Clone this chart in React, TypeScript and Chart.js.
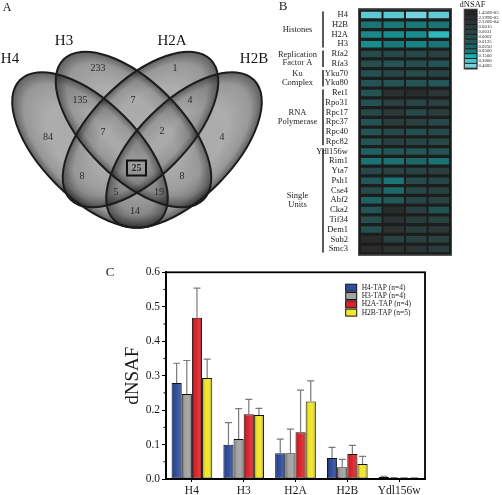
import React, { useEffect, useRef } from 'react';
import { Chart, registerables } from 'chart.js';

Chart.register(...registerables);

const SERIF = "'Liberation Serif', 'Times New Roman', serif";

// ---------------- Panel A : Venn diagram ----------------
const vennSetNames = ['H4', 'H3', 'H2A', 'H2B'];
// H4, H3, H2A, H2B only; H4∩H3, H3∩H2A, H2A∩H2B, H4∩H3∩H2A, H3∩H2A∩H2B, all, H4∩H2A, H3∩H2B, H4∩H2A∩H2B, H4∩H3∩H2B, H4∩H2B
const vennRegionCounts = [84, 233, 1, 4, 135, 7, 4, 7, 2, 25, 8, 8, 5, 19, 14];
const vennHighlightIndex = 9;
// layout (diagram units = px)
const vennEllipses = [
  { cx: 90, cy: 150, a: 99, b: 48, rot: 45 },
  { cx: 133.5, cy: 129.5, a: 99, b: 48, rot: 45 },
  { cx: 140.5, cy: 129.5, a: 99, b: 48, rot: -45 },
  { cx: 184, cy: 150, a: 99, b: 48, rot: -45 },
];
const vennSetLabelPos = [[10, 59], [64, 41], [172, 41], [254, 59]];
const vennCountPos = [
  [48, 137], [98, 68], [175, 68], [222, 137], [80, 100], [133, 100], [190, 100],
  [103, 132], [162, 131], [136.5, 168], [82, 176], [182, 176], [116, 192], [159, 192], [135, 211],
];

// ---------------- Panel B : heat map ----------------
const heatRows = ['H4', 'H2B', 'H2A', 'H3', 'Rfa2', 'Rfa3', 'Yku70', 'Yku80', 'Ret1', 'Rpo31', 'Rpc17', 'Rpc37', 'Rpc40', 'Rpc82', 'Ydl156w', 'Rim1', 'Yta7', 'Psh1', 'Cse4', 'Abf2', 'Cka2', 'Tif34', 'Dem1', 'Sub2', 'Smc3'];
const heatCols = ['H4', 'H3', 'H2A', 'H2B'];
// level on the dNSAF colour scale (0 = 1.450E-05 ... 11 = 0.4683)
const heatLevels = [
  [10.4, 10.3, 11, 10.5],
  [7.8, 8.0, 8.0, 7.9],
  [8.3, 8.4, 8.4, 9.4],
  [8.4, 8.0, 8.2, 7.8],
  [4.5, 4.3, 4.3, 3.5],
  [5.0, 5.5, 5.0, 5.5],
  [5.3, 4.2, 4.8, 4.0],
  [5.5, 5.5, 5.5, 5.8],
  [5.5, 1.2, 0.5, 2.0],
  [5.3, 3.2, 4.0, 3.5],
  [4.3, 2.5, 4.5, 3.0],
  [5.5, 3.0, 3.5, 4.3],
  [5.5, 4.3, 5.0, 4.3],
  [5.7, 3.2, 4.0, 4.2],
  [6.8, 5.8, 5.8, 5.5],
  [7.8, 7.7, 7.2, 7.8],
  [4.3, 3.7, 3.7, 3.2],
  [6.0, 7.8, 4.5, 4.0],
  [4.5, 7.2, 4.2, 3.5],
  [7.0, 6.0, 4.0, 3.7],
  [5.7, 0.5, 3.2, 5.5],
  [5.0, 1.5, 3.0, 3.7],
  [5.0, 1.5, 3.0, 2.2],
  [0.5, 3.5, 3.5, 3.5],
  [0.5, 1.5, 2.0, 3.0],
];
const heatGroups = [
  { label: ['Histones'], from: 0, to: 3 },
  { label: ['Replication', 'Factor A'], from: 4, to: 5 },
  { label: ['Ku', 'Complex'], from: 6, to: 7 },
  { label: ['RNA', 'Polymerase'], from: 8, to: 13 },
  { label: ['Single', 'Units'], from: 14, to: 24 },
];
const scaleLabels = ['1.450E-05', '2.599E-05', '2.320E-04', '0.0015', '0.0031', '0.0062', '0.0125', '0.0250', '0.0500', '0.1500', '0.3000', '0.4683'];
const scaleColors = ['#262626', '#2b2e2e', '#2c3535', '#2a3d3d', '#284545', '#254e4e', '#225858', '#1e6464', '#197878', '#18b0b0', '#4cc4cc', '#74d2de'];

// ---------------- Panel C : bar chart ----------------
const barCategories = ['H4', 'H3', 'H2A', 'H2B', 'Ydl156w'];
const barSeriesNames = ['H4-TAP (n=4)', 'H3-TAP (n=4)', 'H2A-TAP (n=4)', 'H2B-TAP (n=5)'];
const barColors = ['#2f4c9e', '#a4a4a4', '#dd2329', '#f2e82a'];
const h4TapMean = [0.279, 0.0997, 0.0745, 0.061, 0.006];
const h3TapMean = [0.247, 0.116, 0.0745, 0.034, 0.003];
const h2aTapMean = [0.468, 0.188, 0.136, 0.0726, 0.002];
const h2bTapMean = [0.293, 0.186, 0.225, 0.0436, 0.002];
const h4TapSd = [0.057, 0.064, 0.041, 0.031, 0.002];
const h3TapSd = [0.097, 0.088, 0.07, 0.023, 0.001];
const h2aTapSd = [0.086, 0.043, 0.122, 0.025, 0.001];
const h2bTapSd = [0.055, 0.019, 0.06, 0.022, 0.001];
const barMeans = [h4TapMean, h3TapMean, h2aTapMean, h2bTapMean];
const barSds = [h4TapSd, h3TapSd, h2aTapSd, h2bTapSd];
const yTicks = [0, 0.1, 0.2, 0.3, 0.4, 0.5, 0.6];

// ---------------- helpers ----------------
function hexToRgb(h: string) {
  const n = parseInt(h.slice(1), 16);
  return [(n >> 16) & 255, (n >> 8) & 255, n & 255];
}
function levelColor(l: number) {
  const i = Math.max(0, Math.min(scaleColors.length - 2, Math.floor(l)));
  const t = Math.max(0, Math.min(1, l - i));
  const a = hexToRgb(scaleColors[i]);
  const b = hexToRgb(scaleColors[i + 1]);
  const c = a.map((v, k) => Math.round(v + (b[k] - v) * t));
  return `rgb(${c[0]},${c[1]},${c[2]})`;
}

// ---------------- plugins ----------------
const vennPlugin = {
  id: 'vennPlugin',
  beforeDatasetsDraw(chart: any) {
    const { ctx, scales } = chart;
    const sx = (v: number) => scales.x.getPixelForValue(v);
    const sy = (v: number) => scales.y.getPixelForValue(v);
    const k = sx(1) - sx(0);
    const path = (e: any) => {
      ctx.beginPath();
      ctx.ellipse(sx(e.cx), sy(e.cy), e.a * k, e.b * k, (e.rot * Math.PI) / 180, 0, Math.PI * 2);
    };
    ctx.save();
    ctx.fillStyle = '#adadad';
    vennEllipses.forEach((e) => { path(e); ctx.fill(); });
    vennEllipses.forEach((e) => {
      ctx.save();
      ctx.translate(sx(e.cx), sy(e.cy));
      ctx.rotate((e.rot * Math.PI) / 180);
      ctx.scale(e.a * k, e.b * k);
      const g = ctx.createRadialGradient(0, 0, 0, 0, 0, 1);
      g.addColorStop(0, 'rgba(255,255,255,0.06)');
      g.addColorStop(0.55, 'rgba(0,0,0,0)');
      g.addColorStop(0.85, 'rgba(0,0,0,0.12)');
      g.addColorStop(1, 'rgba(0,0,0,0.45)');
      ctx.fillStyle = g;
      ctx.beginPath();
      ctx.arc(0, 0, 1, 0, Math.PI * 2);
      ctx.fill();
      ctx.restore();
    });
    ctx.strokeStyle = '#1c1c1c';
    ctx.lineWidth = 2;
    vennEllipses.forEach((e) => { path(e); ctx.stroke(); });
    ctx.restore();
  },
  afterDatasetsDraw(chart: any) {
    const { ctx, scales } = chart;
    const meta = chart.getDatasetMeta(0);
    ctx.save();
    ctx.textAlign = 'center';
    ctx.textBaseline = 'middle';
    meta.data.forEach((pt: any, i: number) => {
      const bold = i === vennHighlightIndex;
      ctx.font = `${bold ? 'bold ' : ''}10px ${SERIF}`;
      ctx.fillStyle = '#2a2a2a';
      ctx.fillText(String(vennRegionCounts[i]), pt.x, pt.y);
      if (bold) {
        ctx.strokeStyle = '#111';
        ctx.lineWidth = 2;
        ctx.strokeRect(pt.x - 9.5, pt.y - 7.5, 19, 15);
      }
    });
    ctx.font = `15px ${SERIF}`;
    ctx.fillStyle = '#151515';
    vennSetNames.forEach((n, i) => {
      ctx.fillText(n, scales.x.getPixelForValue(vennSetLabelPos[i][0]), scales.y.getPixelForValue(vennSetLabelPos[i][1]));
    });
    ctx.font = `12px ${SERIF}`;
    ctx.fillText('A', 7, 8);
    ctx.restore();
  },
};

const heatPlugin = {
  id: 'heatPlugin',
  beforeDatasetsDraw(chart: any) {
    const { ctx, chartArea: ca } = chart;
    ctx.save();
    ctx.fillStyle = '#1c1e1e';
    ctx.fillRect(ca.left - 1, ca.top - 1, ca.width + 2, ca.height + 2);
    ctx.strokeStyle = '#4a4a4a';
    ctx.lineWidth = 1;
    ctx.strokeRect(ca.left - 1.5, ca.top - 1.5, ca.width + 3, ca.height + 3);
    ctx.restore();
  },
  afterDraw(chart: any) {
    const { ctx, chartArea: ca, scales } = chart;
    const y = scales.y;
    const rowH = y.getPixelForValue(1) - y.getPixelForValue(0);
    ctx.save();
    ctx.fillStyle = '#1e1e1e';
    ctx.strokeStyle = '#111';
    ctx.lineWidth = 1.4;
    ctx.textAlign = 'center';
    ctx.textBaseline = 'middle';
    ctx.font = `8.5px ${SERIF}`;
    heatGroups.forEach((g) => {
      const y1 = y.getPixelForValue(g.from) - rowH / 2 + 1.5;
      const y2 = y.getPixelForValue(g.to) + rowH / 2 - 1.5;
      ctx.beginPath();
      ctx.moveTo(ca.left - 37, y1);
      ctx.lineTo(ca.left - 37, y2);
      ctx.stroke();
      const mid = (y1 + y2) / 2;
      g.label.forEach((t, k) => {
        ctx.fillText(t, ca.left - 62.5, mid + (k - (g.label.length - 1) / 2) * 8.4);
      });
    });
    // panel letter
    ctx.font = `13px ${SERIF}`;
    ctx.fillText('B', 28, 7);
    // colour scale legend
    const lx = ca.right + 15;
    const lw = 11.5;
    const top = 10;
    const bh = 4.85;
    ctx.font = `8.5px ${SERIF}`;
    ctx.fillText('dNSAF', ca.right + 22.5, 4.5);
    ctx.fillStyle = '#1c1c1c';
    ctx.fillRect(lx - 1, top - 1, lw + 2, bh * scaleColors.length + 2);
    scaleColors.forEach((c, i) => {
      ctx.fillStyle = c;
      ctx.fillRect(lx, top + i * bh + 0.5, lw, bh - 1);
    });
    ctx.strokeStyle = '#777';
    ctx.lineWidth = 0.8;
    ctx.strokeRect(lx - 1, top - 1, lw + 2, bh * scaleColors.length + 2);
    ctx.font = `4.8px ${SERIF}`;
    ctx.textAlign = 'left';
    ctx.fillStyle = '#222';
    scaleLabels.forEach((t, i) => {
      ctx.fillText(t, lx + lw + 2, top + i * bh + bh / 2);
    });
    ctx.restore();
  },
};

const barPlugin = {
  id: 'barPlugin',
  afterDatasetsDraw(chart: any) {
    const { ctx, scales, chartArea: ca } = chart;
    const ys = scales.y;
    ctx.save();
    chart.data.datasets.forEach((ds: any, di: number) => {
      const meta = chart.getDatasetMeta(di);
      meta.data.forEach((bar: any, i: number) => {
        const { x, y, base, width } = bar.getProps(['x', 'y', 'base', 'width'], true);
        const h = base - y;
        if (h > 2.5) {
          const g = ctx.createLinearGradient(x - width / 2, 0, x + width / 2, 0);
          g.addColorStop(0, 'rgba(0,0,0,0.38)');
          g.addColorStop(0.3, 'rgba(0,0,0,0)');
          g.addColorStop(0.6, 'rgba(255,255,255,0.06)');
          g.addColorStop(1, 'rgba(0,0,0,0.42)');
          ctx.fillStyle = g;
          ctx.fillRect(x - width / 2 + 1, y + 1, width - 2, h - 1);
        }
        const top = ys.getPixelForValue(barMeans[di][i] + barSds[di][i]);
        ctx.strokeStyle = '#7a7a7a';
        ctx.lineWidth = 1.2;
        ctx.beginPath();
        ctx.moveTo(x, y);
        ctx.lineTo(x, top);
        ctx.moveTo(x - 3.5, top);
        ctx.lineTo(x + 3.5, top);
        ctx.stroke();
      });
    });
    // minor ticks
    ctx.strokeStyle = '#000';
    ctx.lineWidth = 1;
    for (let i = 0; i < yTicks.length - 1; i++) {
      const py = ys.getPixelForValue((yTicks[i] + yTicks[i + 1]) / 2);
      ctx.beginPath();
      ctx.moveTo(ca.left - 2.5, py);
      ctx.lineTo(ca.left, py);
      ctx.stroke();
    }
    // frame
    ctx.lineWidth = 1.8;
    ctx.strokeRect(ca.left, ca.top, ca.width, ca.height);
    // legend
    const lx = ca.left + 179.7;
    const ly = ca.top + 15.4;
    ctx.textBaseline = 'middle';
    ctx.textAlign = 'left';
    ctx.font = `7.5px ${SERIF}`;
    barSeriesNames.forEach((n, i) => {
      const cy = ly + i * 8.3;
      ctx.fillStyle = barColors[i];
      ctx.fillRect(lx, cy - 3.5, 11, 7);
      ctx.strokeStyle = '#111';
      ctx.lineWidth = 1;
      ctx.strokeRect(lx, cy - 3.5, 11, 7);
      ctx.fillStyle = '#222';
      ctx.fillText(n, lx + 16, cy);
    });
    ctx.font = `13px ${SERIF}`;
    ctx.textAlign = 'center';
    ctx.fillStyle = '#222';
    ctx.fillText('C', 10, 11);
    ctx.restore();
  },
};

// ---------------- configs ----------------
function vennConfig(): any {
  return {
    type: 'scatter',
    data: {
      datasets: [{ data: vennCountPos.map(([x, y]) => ({ x, y })), pointRadius: 0 }],
    },
    options: {
      responsive: false,
      animation: false,
      layout: { padding: 0 },
      scales: {
        x: { type: 'linear', min: 0, max: 275, display: false },
        y: { type: 'linear', min: 0, max: 240, reverse: true, display: false },
      },
      plugins: { legend: { display: false }, tooltip: { enabled: false } },
    },
    plugins: [vennPlugin],
  };
}

function heatConfig(): any {
  return {
    type: 'bar',
    data: {
      labels: heatRows,
      datasets: heatCols.map((c, j) => ({
        label: c,
        xAxisID: 'x',
        yAxisID: 'y',
        data: heatRows.map(() => [j, j + 1]),
        backgroundColor: heatRows.map((_, i) => levelColor(heatLevels[i][j])),
        borderColor: '#1c1e1e',
        borderWidth: 1,
        borderSkipped: false,
        grouped: false,
        barPercentage: 0.88,
        categoryPercentage: 1,
      })),
    },
    options: {
      indexAxis: 'y',
      responsive: false,
      animation: false,
      layout: { padding: { top: 0, right: 52, bottom: 0, left: 0 } },
      scales: {
        x: { type: 'linear', min: 0, max: 4, display: false },
        x2: {
          type: 'category',
          labels: heatCols,
          position: 'top',
          offset: true,
          grid: { display: false },
          border: { display: false },
          ticks: { font: { family: SERIF, size: 8.5 }, color: '#222', padding: 1, autoSkip: false, maxRotation: 0 },
          afterFit: (s: any) => { s.height = 10.1; },
        },
        y: {
          type: 'category',
          grid: { display: false },
          border: { display: false },
          ticks: { font: { family: SERIF, size: 8.5 }, color: '#222', padding: 4, autoSkip: false },
          afterFit: (s: any) => { s.width = 105; },
        },
      },
      plugins: { legend: { display: false }, tooltip: { enabled: false } },
    },
    plugins: [heatPlugin],
  };
}

function barConfig(): any {
  return {
    type: 'bar',
    data: {
      labels: barCategories,
      datasets: barSeriesNames.map((n, i) => ({
        label: n,
        data: barMeans[i],
        backgroundColor: barColors[i],
        borderColor: '#111',
        borderWidth: 1,
        borderSkipped: false,
        barPercentage: 1,
        categoryPercentage: 0.785,
      })),
    },
    options: {
      responsive: false,
      animation: false,
      layout: { padding: { top: 10.3, right: 15, bottom: 0, left: 0 } },
      scales: {
        x: {
          grid: { display: true, drawOnChartArea: false, offset: false, tickLength: 3, color: '#000' },
          border: { display: true, color: '#000', width: 1.8 },
          ticks: { font: { family: SERIF, size: 11.5 }, color: '#1a1a1a', padding: 2, maxRotation: 0 },
          afterFit: (s: any) => { s.height = 16; },
        },
        y: {
          min: 0,
          max: 0.6,
          afterBuildTicks: (s: any) => { s.ticks = yTicks.map((v) => ({ value: v })); },
          ticks: {
            font: { family: SERIF, size: 11.5 },
            color: '#1a1a1a',
            padding: 2,
            callback: (v: any) => Number(v).toFixed(1),
          },
          grid: { display: true, drawOnChartArea: false, tickLength: 4, color: '#000' },
          border: { display: true, color: '#000', width: 1.8 },
          title: {
            display: true,
            text: 'dNSAF',
            font: { family: SERIF, size: 19 },
            color: '#1a1a1a',
            padding: { top: 21.6, bottom: 0 },
          },
          afterFit: (s: any) => { s.width = 66; },
        },
      },
      plugins: { legend: { display: false }, tooltip: { enabled: false } },
    },
    plugins: [barPlugin],
  };
}

export default function App() {
  const aRef = useRef<HTMLCanvasElement>(null);
  const bRef = useRef<HTMLCanvasElement>(null);
  const cRef = useRef<HTMLCanvasElement>(null);

  useEffect(() => {
    const charts = [
      new Chart(aRef.current as HTMLCanvasElement, vennConfig()),
      new Chart(bRef.current as HTMLCanvasElement, heatConfig()),
      new Chart(cRef.current as HTMLCanvasElement, barConfig()),
    ];
    return () => charts.forEach((c) => c.destroy());
  }, []);

  const abs = (l: number, t: number, w: number, h: number): any => ({ position: 'absolute', left: l, top: t, width: w, height: h });

  return (
    <div style={{ position: 'absolute', left: 0, top: 0, width: 502, height: 495, background: '#fff', overflow: 'hidden' }}>
      <canvas ref={aRef} width={275} height={240} style={abs(0, 0, 275, 240)} />
      <canvas ref={bRef} width={247} height={263} style={abs(255, 0, 247, 263)} />
      <canvas ref={cRef} width={340} height={233} style={abs(100, 262, 340, 233)} />
    </div>
  );
}
